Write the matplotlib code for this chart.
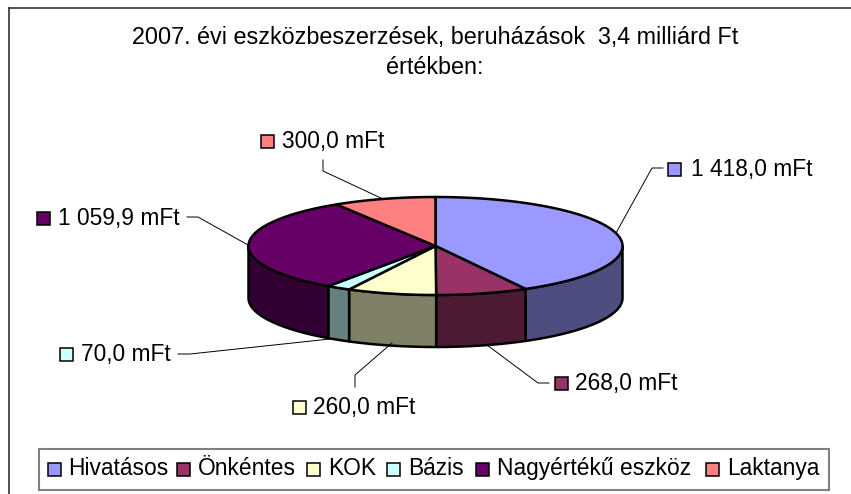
import matplotlib
matplotlib.use("Agg")
import matplotlib.pyplot as plt
import numpy as np
from matplotlib.patches import Rectangle

plt.rcParams["font.family"] = ["Liberation Sans", "DejaVu Sans"]

categories = ["Hivatásos", "Önkéntes", "KOK", "Bázis", "Nagyértékű eszköz", "Laktanya"]
values = [1418.0, 268.0, 260.0, 70.0, 1059.9, 300.0]
value_labels = ["1 418,0 mFt", "268,0 mFt", "260,0 mFt", "70,0 mFt", "1 059,9 mFt", "300,0 mFt"]
title_lines = ["2007. évi eszközbeszerzések, beruházások  3,4 milliárd Ft", "értékben:"]

colors = ["#9999FF", "#993366", "#FFFFCC", "#CCFFFF", "#660066", "#FF8080"]
side_colors = ["#4D4D80", "#4D1A33", "#808066", "#668080", "#330033", "#804040"]

# layout, all in image pixels
cx, cy, rx, ry, depth = 435.5, 246, 187, 49, 52
label_marker_xy = [(668, 163), (555, 377), (293, 401), (60, 348), (37, 212), (261, 135)]
label_text_x = [691, 575, 313, 81, 58, 282]
leaders = [
    [(663, 168), (652, 168), (616, 233)],
    [(549, 383), (538, 383), (487, 345)],
    [(355, 387), (355, 375), (392, 343)],
    [(178, 354), (190, 354), (330, 339)],
    [(187, 217), (198, 217), (248, 245)],
    [(323, 160), (323, 171), (383, 199)],
]
legend_marker_x = [48, 177, 307, 387, 476, 706]
legend_text_x = [68, 198, 328, 408, 497, 727]

fig = plt.figure(figsize=(8.51, 4.94), dpi=100)
ax = fig.add_axes([0, 0, 1, 1])
ax.set_xlim(0, 851)
ax.set_ylim(494, 0)
ax.axis("off")

# outer frame runs off the right and bottom of the picture
ax.plot([8.5, 8.5], [494, 8.5], color="#333333", lw=1.2)
ax.plot([8.5, 851], [8.5, 8.5], color="#333333", lw=1.2)

ax.text(435, 44, title_lines[0], ha="center", va="baseline", fontsize=16.8, color="black")
ax.text(435, 74, title_lines[1], ha="center", va="baseline", fontsize=16.8, color="black")


def ellipse_points(a, b, offset=0):
    t = np.radians(np.linspace(a, b, max(int(abs(b - a)), 2) + 1))
    return cx + rx * np.sin(t), cy - ry * np.cos(t) + offset


# angles go clockwise from the top of the pie
edges = np.concatenate([[0], np.cumsum(values)]) / np.sum(values) * 360

for i in range(len(values)):
    a = max(edges[i], 90)
    b = min(edges[i + 1], 270)
    if a < b:
        x1, y1 = ellipse_points(a, b)
        x2, y2 = ellipse_points(a, b, depth)
        ax.fill(np.concatenate([x1, x2[::-1]]), np.concatenate([y1, y2[::-1]]),
                facecolor=side_colors[i], edgecolor="black", lw=1.8, joinstyle="round")

for i in range(len(values)):
    x1, y1 = ellipse_points(edges[i], edges[i + 1])
    ax.fill(np.concatenate([[cx], x1]), np.concatenate([[cy], y1]),
            facecolor=colors[i], edgecolor="black", lw=1.8, joinstyle="round")

for i, pts in enumerate(leaders):
    xs, ys = zip(*pts)
    ax.plot(xs, ys, color="black", lw=0.7)
    mx, my = label_marker_xy[i]
    ax.add_patch(Rectangle((mx, my), 13, 13, facecolor=colors[i], edgecolor="black", lw=1.1))
    ax.text(label_text_x[i], my + 13, value_labels[i], ha="left", va="baseline", fontsize=16.4, color="black")

ax.add_patch(Rectangle((39, 449), 790, 41, facecolor="white", edgecolor="#808080", lw=1.5))
for i, name in enumerate(categories):
    ax.add_patch(Rectangle((legend_marker_x[i], 463), 13, 13, facecolor=colors[i], edgecolor="black", lw=1.1))
    ax.text(legend_text_x[i], 475, name, ha="left", va="baseline", fontsize=16.4, color="black")

fig.savefig("out.png", dpi=100)
